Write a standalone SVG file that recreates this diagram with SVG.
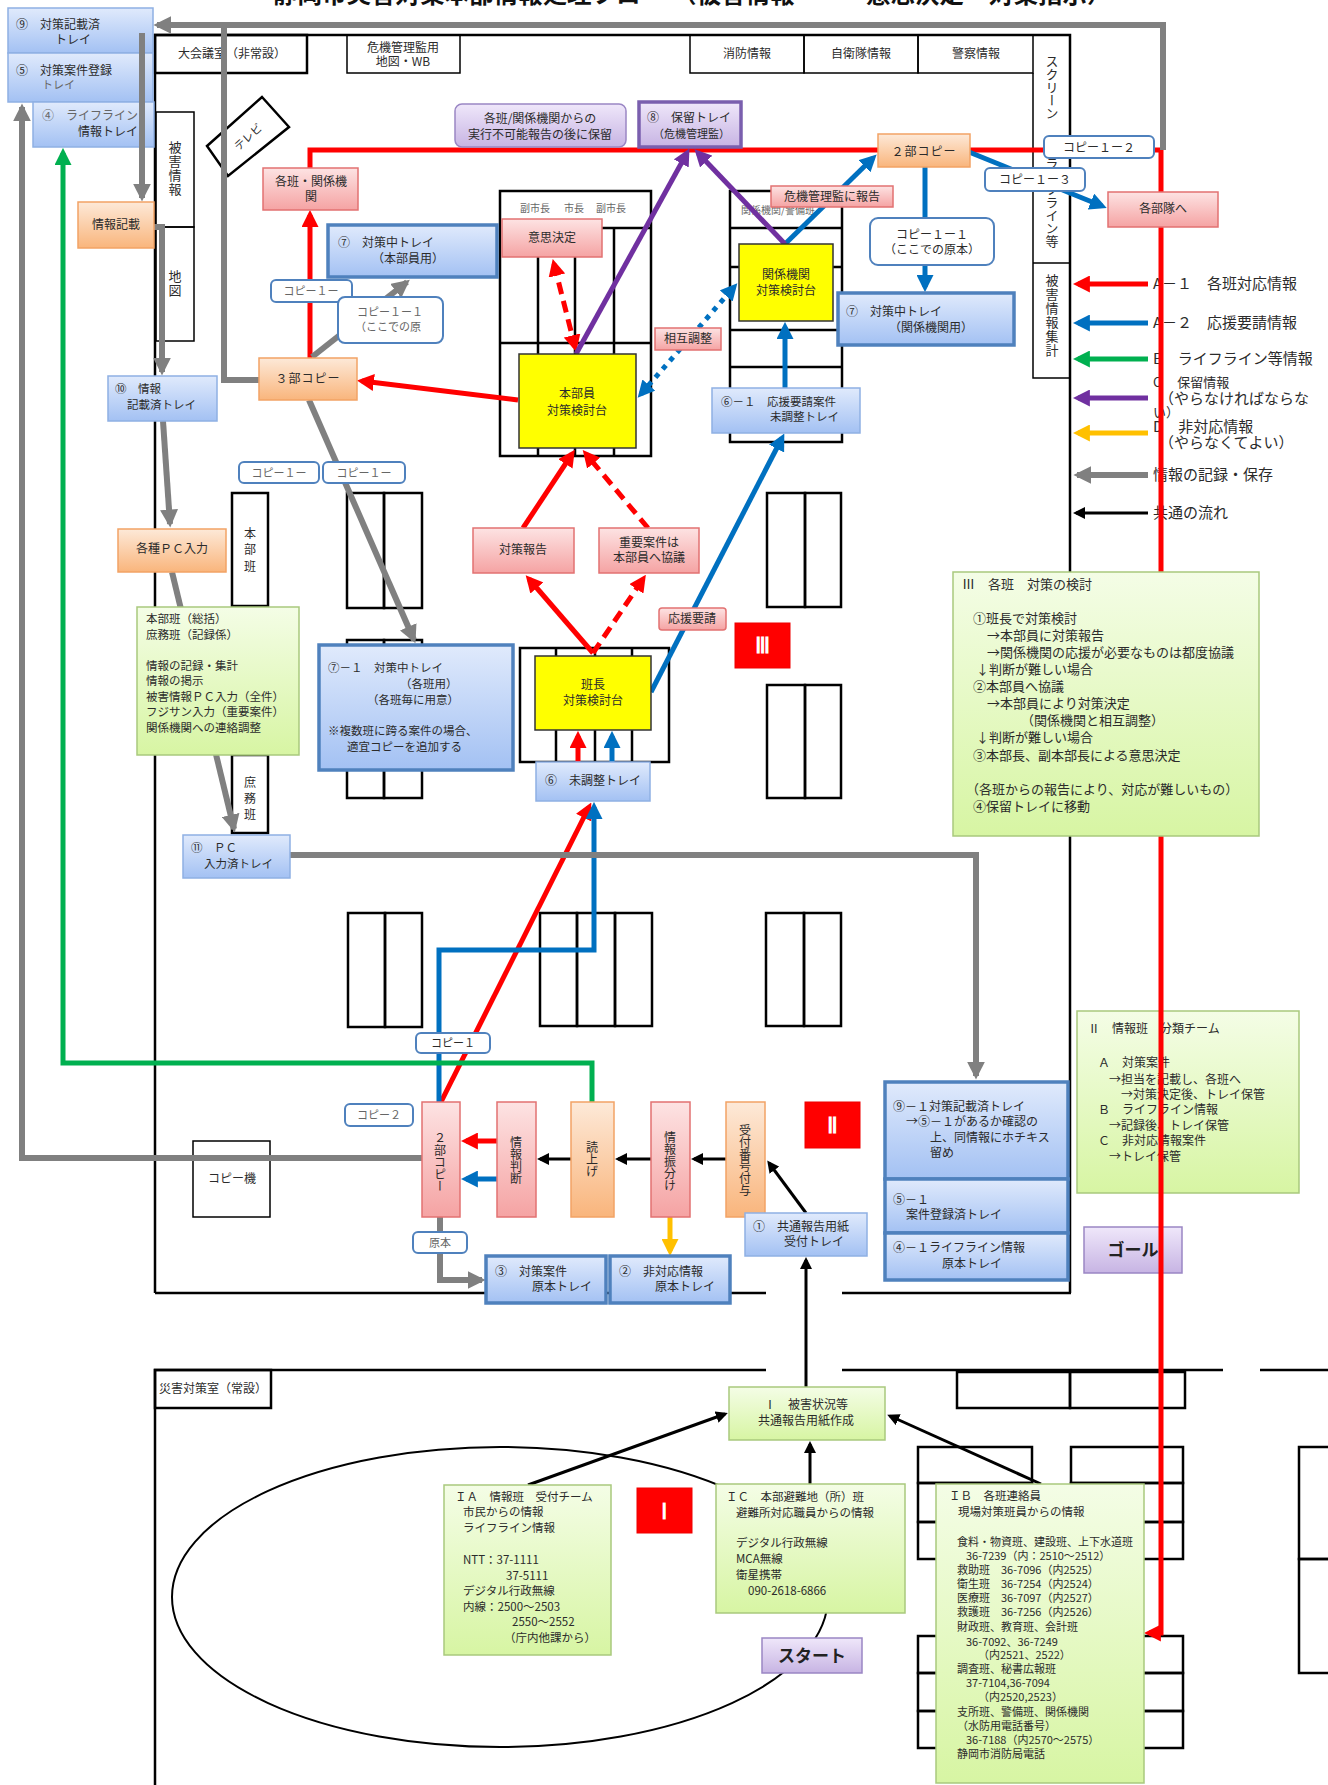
<svg xmlns="http://www.w3.org/2000/svg" width="1328" height="1785" viewBox="0 0 1328 1785">
<defs>
<linearGradient id="gB" x1="0" y1="0" x2="0" y2="1"><stop offset="0" stop-color="#e0eafc"/><stop offset="1" stop-color="#a3c1f3"/></linearGradient>
<linearGradient id="gO" x1="0" y1="0" x2="0" y2="1"><stop offset="0" stop-color="#fde9d8"/><stop offset="1" stop-color="#f9b57c"/></linearGradient>
<linearGradient id="gP" x1="0" y1="0" x2="0" y2="1"><stop offset="0" stop-color="#fde3e3"/><stop offset="1" stop-color="#f5a3a3"/></linearGradient>
<linearGradient id="gG" x1="0" y1="0" x2="0" y2="1"><stop offset="0" stop-color="#f4fde6"/><stop offset="1" stop-color="#d7f5a3"/></linearGradient>
<linearGradient id="gV" x1="0" y1="0" x2="0" y2="1"><stop offset="0" stop-color="#efe7fa"/><stop offset="1" stop-color="#c7b4e3"/></linearGradient>
<marker id="mR" viewBox="0 0 10 10" refX="7" refY="5" markerWidth="3.4" markerHeight="3.4" orient="auto-start-reverse"><path d="M0,0 L10,5 L0,10 z" fill="#ff0000"/></marker>
<marker id="mB" viewBox="0 0 10 10" refX="7" refY="5" markerWidth="3.4" markerHeight="3.4" orient="auto-start-reverse"><path d="M0,0 L10,5 L0,10 z" fill="#0070c0"/></marker>
<marker id="mG" viewBox="0 0 10 10" refX="7" refY="5" markerWidth="3.4" markerHeight="3.4" orient="auto-start-reverse"><path d="M0,0 L10,5 L0,10 z" fill="#00b050"/></marker>
<marker id="mV" viewBox="0 0 10 10" refX="7" refY="5" markerWidth="3.4" markerHeight="3.4" orient="auto-start-reverse"><path d="M0,0 L10,5 L0,10 z" fill="#7030a0"/></marker>
<marker id="mY" viewBox="0 0 10 10" refX="7" refY="5" markerWidth="3.4" markerHeight="3.4" orient="auto-start-reverse"><path d="M0,0 L10,5 L0,10 z" fill="#ffc000"/></marker>
<marker id="mGr" viewBox="0 0 10 10" refX="8" refY="5" markerWidth="3" markerHeight="3" orient="auto-start-reverse"><path d="M0,0 L10,5 L0,10 z" fill="#808080"/></marker>
<marker id="mK" viewBox="0 0 10 10" refX="7.5" refY="5" markerWidth="4" markerHeight="4" orient="auto-start-reverse"><path d="M0,0 L10,5 L0,10 z" fill="#000"/></marker>
<style>
text{font-family:"Noto Sans CJK JP","Noto Sans",sans-serif;fill:#2b2b2b}
.s10{font-size:10px}.s11{font-size:11px}.s115{font-size:11.5px}.s12{font-size:12px}.s13{font-size:13px}.s15{font-size:15px}
.m{text-anchor:middle}
.v{writing-mode:vertical-rl}
.g{fill:#666}
.wall{fill:none;stroke:#000;stroke-width:2.5}
.thin{fill:none;stroke:#000;stroke-width:1.5}
.desk{fill:none;stroke:#000;stroke-width:2.5}
.tb{fill:url(#gB);stroke:#8fb0e3;stroke-width:1.5}
.tbk{fill:url(#gB);stroke:#4f81bd;stroke-width:3.5}
.or{fill:url(#gO);stroke:#f2a365;stroke-width:1.5}
.pk{fill:url(#gP);stroke:#e27272;stroke-width:1.5}
.gr{fill:url(#gG);stroke:#a9c97d;stroke-width:1.5}
.pu{fill:url(#gV);stroke:#9a86c4;stroke-width:1.5}
.puk{fill:url(#gV);stroke:#7a5fae;stroke-width:3.5}
.yl{fill:#ffff00;stroke:#333;stroke-width:1.5}
.cp{fill:#fff;stroke:#4f81bd;stroke-width:2}
.rd{fill:#f00;stroke:#e00;stroke-width:1}
.rn{font-family:"Liberation Serif",serif;font-weight:bold;font-size:22px;fill:#fff;text-anchor:middle}
.big{font-size:17px;font-weight:bold;fill:#222}
.cR{fill:none;stroke:#ff0000;stroke-width:5}
.cB{fill:none;stroke:#0070c0;stroke-width:5}
.cG{fill:none;stroke:#00b050;stroke-width:5}
.cV{fill:none;stroke:#7030a0;stroke-width:5}
.cY{fill:none;stroke:#ffc000;stroke-width:5}
.cGr{fill:none;stroke:#808080;stroke-width:6}
.cK{fill:none;stroke:#000;stroke-width:3}
</style>
</defs>
<rect width="1328" height="1785" fill="#fff"/>

<g id="background">
<text x="273" y="3" font-size="24.5" font-weight="bold" style="fill:#111">静岡市災害対策本部情報処理フロー</text>
<text x="672" y="3" font-size="24.5" font-weight="bold" style="fill:#111">（被害情報</text>
<text x="866" y="3" font-size="24.5" font-weight="bold" style="fill:#111">意思決定</text>
<text x="989" y="3" font-size="24.5" font-weight="bold" style="fill:#111">対策指示）</text>
<path class="wall" d="M155,1293 V35 H1070 V1293"/>
<path class="wall" d="M155,1293 H766 M842,1293 H1071"/>
<rect class="wall" x="155" y="35" width="152" height="38"/>
<text class="s12" x="178" y="58">大会議室（非常設）</text>
<rect class="thin" x="347" y="35" width="113" height="38"/>
<text class="s12 m" x="403" y="52">危機管理監用</text>
<text class="s12 m" x="403" y="66">地図・WB</text>
<rect class="thin" x="690" y="35" width="114" height="38"/>
<rect class="thin" x="804" y="35" width="114" height="38"/>
<rect class="thin" x="918" y="35" width="115" height="38"/>
<text class="s12 m" x="747" y="58">消防情報</text>
<text class="s12 m" x="861" y="58">自衛隊情報</text>
<text class="s12 m" x="976" y="58">警察情報</text>
<path class="thin" d="M1033,73 V378 H1070 M1033,263 H1070"/>
<text class="s13 v" x="1052" y="55">スクリーン</text>
<text class="s13 v" x="1052" y="157">ライフライン等</text>
<text class="s13 v" x="1052" y="274" style="letter-spacing:1px">被害情報集計</text>
<rect class="thin" x="156" y="112" width="38" height="115"/>
<rect class="thin" x="156" y="227" width="38" height="114"/>
<text class="s13 v" x="175" y="141" style="letter-spacing:1px">被害情報</text>
<text class="s13 v" x="175" y="270" style="letter-spacing:1px">地図</text>
<polygon points="262,97 289,127 228,176 207,146" fill="#fff" stroke="#000" stroke-width="2.5"/>
<text class="s11 m" x="248" y="141" transform="rotate(-42 248 137)">テレビ</text>
<rect class="desk" x="232" y="493" width="36" height="113"/>
<text class="s12 v" x="250" y="527" style="letter-spacing:4.5px">本部班</text>
<rect class="desk" x="232" y="755" width="36" height="78"/>
<text class="s12 v" x="250" y="776" style="letter-spacing:4px">庶務班</text>
<rect class="desk" x="347" y="493" width="37" height="115"/>
<rect class="desk" x="384" y="493" width="38" height="115"/>
<rect class="desk" x="347" y="640" width="37" height="158"/>
<rect class="desk" x="384" y="640" width="38" height="158"/>
<rect class="desk" x="767" y="493" width="38" height="114"/>
<rect class="desk" x="805" y="493" width="36" height="114"/>
<rect class="desk" x="767" y="685" width="38" height="113"/>
<rect class="desk" x="805" y="685" width="36" height="113"/>
<rect class="desk" x="348" y="913" width="37" height="114"/>
<rect class="desk" x="385" y="913" width="37" height="114"/>
<rect class="desk" x="540" y="913" width="37" height="113"/>
<rect class="desk" x="577" y="913" width="38" height="113"/>
<rect class="desk" x="615" y="913" width="37" height="113"/>
<rect class="desk" x="766" y="913" width="38" height="113"/>
<rect class="desk" x="804" y="913" width="37" height="113"/>
<rect class="desk" x="500" y="191" width="151" height="265"/>
<path class="desk" d="M602,228 H651 M538,228 V456 M575,228 V456 M614,228 V456 M500,343 H651"/>
<text class="s10 g" x="520" y="212">副市長</text>
<text class="s10 g" x="564" y="212">市長</text>
<text class="s10 g" x="596" y="212">副市長</text>
<rect class="desk" x="730" y="191" width="112" height="251"/>
<path class="desk" d="M730,228 H842 M730,267 H842 M730,330 H842 M730,367 H842"/>
<text class="s10 g" x="741" y="214">関係機関/警備班</text>
<rect class="desk" x="520" y="648" width="149" height="114"/>
<path class="desk" d="M556,648 V762 M595,648 V762 M632,648 V762"/>
<rect class="thin" x="193" y="1141" width="77" height="76"/>
<text class="s12 m" x="232" y="1183">コピー機</text>
<path class="wall" d="M155,1785 V1370 H766 M842,1370 H1223 M1260,1370 H1328"/>
<rect class="wall" x="155" y="1370" width="116" height="38"/>
<text class="s12" x="159" y="1393">災害対策室（常設）</text>
<rect class="desk" x="957" y="1372" width="113" height="36"/>
<rect class="desk" x="1070" y="1372" width="115" height="36"/>
<rect class="desk" x="918" y="1447" width="114" height="36"/>
<rect class="desk" x="1071" y="1447" width="112" height="36"/>
<rect class="desk" x="918" y="1483" width="114" height="39"/>
<rect class="desk" x="1071" y="1483" width="112" height="39"/>
<rect class="desk" x="918" y="1522" width="114" height="37"/>
<rect class="desk" x="1071" y="1522" width="112" height="37"/>
<rect class="desk" x="918" y="1636" width="114" height="37"/>
<rect class="desk" x="1071" y="1636" width="112" height="37"/>
<rect class="desk" x="918" y="1673" width="114" height="38"/>
<rect class="desk" x="1071" y="1673" width="112" height="38"/>
<rect class="desk" x="918" y="1711" width="114" height="37"/>
<rect class="desk" x="1071" y="1711" width="112" height="37"/>
<rect class="desk" x="1299" y="1447" width="40" height="112"/>
<rect class="desk" x="1299" y="1559" width="40" height="114"/>
<ellipse cx="500" cy="1597" rx="328" ry="150" fill="none" stroke="#000" stroke-width="2"/>
</g>

<g id="legend">
<path class="cR" d="M1148,284 H1078" marker-end="url(#mR)"/>
<path class="cB" d="M1148,323 H1078" marker-end="url(#mB)"/>
<path class="cG" d="M1148,359 H1078" marker-end="url(#mG)"/>
<path class="cV" d="M1148,398 H1078" marker-end="url(#mV)"/>
<path class="cY" d="M1148,433 H1078" marker-end="url(#mY)"/>
<path class="cGr" d="M1148,475 H1077" marker-end="url(#mGr)"/>
<path class="cK" d="M1148,513 H1076" marker-end="url(#mK)"/>
<text class="s15" x="1153" y="289">A－１　各班対応情報</text>
<text class="s15" x="1153" y="328">A－２　応援要請情報</text>
<text class="s15" x="1153" y="364">B　ライフライン等情報</text>
<text class="s13" x="1153" y="387">C　 保留情報</text>
<text class="s15" x="1159" y="404">（やらなければならな</text>
<text class="s13" x="1153" y="417">い）</text>
<text class="s15" x="1153" y="432">D　非対応情報</text>
<text class="s15" x="1159" y="448">（やらなくてよい）</text>
<text class="s15" x="1153" y="480">情報の記録・保存</text>
<text class="s15" x="1153" y="518">共通の流れ</text>
</g>

<g id="n-tray9">
<rect class="tb" x="8" y="8" width="145" height="45"/>
<text class="s12" x="16" y="29">⑨　対策記載済</text>
<text class="s12" x="55" y="44">トレイ</text>
</g>
<g id="n-tray5">
<rect class="tb" x="8" y="53" width="145" height="49"/>
<text class="s12" x="16" y="75">⑤　対策案件登録</text>
<text class="s11 g" x="42" y="89">トレイ</text>
</g>
<g id="n-tray4">
<rect class="tb" x="33" y="102" width="121" height="45"/>
<text class="s12 g" x="42" y="120">④　ライフライン</text>
<text class="s12" x="78" y="136">情報トレイ</text>
</g>
<g id="n-team2">
<rect class="gr" x="1077" y="1011" width="222" height="182"/>
<text class="s12" x="1088" y="1033">Ⅱ　情報班　分類チーム</text>
<text class="s12" x="1098" y="1067">Ａ　対策案件</text>
<text class="s12" x="1109" y="1084">→担当を記載し、各班へ</text>
<text class="s12" x="1121" y="1099">→対策決定後、トレイ保管</text>
<text class="s12" x="1098" y="1114">Ｂ　ライフライン情報</text>
<text class="s12" x="1109" y="1130">→記録後、トレイ保管</text>
<text class="s12" x="1098" y="1145">Ｃ　非対応情報案件</text>
<text class="s12" x="1109" y="1161">→トレイ保管</text>
</g>
<g id="n-goal">
<rect class="pu" x="1084" y="1227" width="98" height="46"/>
<text class="big m" x="1133" y="1256">ゴール</text>
</g>

<g id="connectors">
<path class="cR" d="M310,358 V215" marker-end="url(#mR)"/>
<path class="cR" d="M310,168 V150 H880"/>
<path class="cR" d="M968,150 H1161 V1633 H1149" marker-end="url(#mR)"/>
<path class="cR" d="M518,400 L362,381" marker-end="url(#mR)"/>
<path class="cR" d="M523,528 L572,454" marker-end="url(#mR)"/>
<path class="cR" d="M648,528 L586,454" stroke-dasharray="12,7" marker-end="url(#mR)"/>
<path class="cR" d="M593,653 L529,579" marker-end="url(#mR)"/>
<path class="cR" d="M593,653 L643,579" stroke-dasharray="12,7" marker-end="url(#mR)"/>
<path class="cR" d="M554,264 L575,347" stroke-dasharray="12,7" marker-start="url(#mR)" marker-end="url(#mR)"/>
<path class="cR" d="M441,1102 L589,807" marker-end="url(#mR)"/>
<path class="cR" d="M578,762 V736" marker-end="url(#mR)"/>
<path class="cR" d="M497,1141 H466" marker-end="url(#mR)"/>
<path class="cB" d="M785,244 L873,158" marker-end="url(#mB)"/>
<path class="cB" d="M925,167 V287" marker-end="url(#mB)"/>
<path class="cB" d="M969,152 L1102,206" marker-end="url(#mB)"/>
<path class="cB" d="M641,394 L734,287" stroke-dasharray="5,6" marker-start="url(#mB)" marker-end="url(#mB)"/>
<path class="cB" d="M785,388 V327" marker-end="url(#mB)"/>
<path class="cB" d="M651,692 L782,438" marker-end="url(#mB)"/>
<path class="cB" d="M439,1102 V950 H594 V807" marker-end="url(#mB)"/>
<path class="cB" d="M612,762 V736" marker-end="url(#mB)"/>
<path class="cB" d="M497,1179 H466" marker-end="url(#mB)"/>
<path class="cG" d="M592,1102 V1063 H63 V153" marker-end="url(#mG)"/>
<path class="cV" d="M576,354 L687,153" marker-end="url(#mV)"/>
<path class="cV" d="M785,244 L698,153" marker-end="url(#mV)"/>
<path class="cY" d="M670,1217 V1251" marker-end="url(#mY)"/>
<path class="cGr" d="M1163,150 V25 H157" marker-end="url(#mGr)"/>
<path class="cGr" d="M259,380 H224 V25"/>
<path class="cGr" d="M142,33 V198" marker-end="url(#mGr)"/>
<path class="cGr" d="M154,227 H162 V372" marker-end="url(#mGr)"/>
<path class="cGr" d="M163,421 L170,524" marker-end="url(#mGr)"/>
<path class="cGr" d="M172,572 L234,829" marker-end="url(#mGr)"/>
<path class="cGr" d="M290,855 H976 V1076" marker-end="url(#mGr)"/>
<path class="cGr" d="M312,357 L407,282" marker-end="url(#mGr)"/>
<path class="cGr" d="M309,400 L414,640" marker-end="url(#mGr)"/>
<path class="cGr" d="M422,1158 H22 V107" marker-end="url(#mGr)"/>
<path class="cGr" d="M440,1217 V1280 H482" marker-end="url(#mGr)"/>
<path class="cK" d="M726,1159 H694" marker-end="url(#mK)"/>
<path class="cK" d="M651,1159 H618" marker-end="url(#mK)"/>
<path class="cK" d="M571,1159 H540" marker-end="url(#mK)"/>
<path class="cK" d="M806,1213 L769,1163" marker-end="url(#mK)"/>
<path class="cK" d="M806,1387 V1260" marker-end="url(#mK)"/>
<path class="cK" d="M528,1485 L725,1414" marker-end="url(#mK)"/>
<path class="cK" d="M810,1484 V1444" marker-end="url(#mK)"/>
<path class="cK" d="M1041,1484 L890,1416" marker-end="url(#mK)"/>
</g>

<g id="n-jouhoukisai"><rect class="or" x="78" y="202" width="76" height="46"/><text class="s12 m" x="116" y="229">情報記載</text></g>
<g id="n-tray10"><rect class="tb" x="108" y="376" width="109" height="45"/><text class="s115" x="115" y="393">⑩　情報</text><text class="s115" x="127" y="409">記載済トレイ</text></g>
<g id="n-kakuhan"><rect class="pk" x="263" y="168" width="95" height="42"/><text class="s12 m" x="311" y="186">各班・関係機</text><text class="s12 m" x="311" y="201">関</text></g>
<g id="n-tray7a"><rect class="tbk" x="328" y="225" width="169" height="52"/><text class="s12" x="338" y="247">⑦　対策中トレイ</text><text class="s12" x="372" y="263">（本部員用）</text></g>
<g id="n-copy3"><rect class="or" x="259" y="358" width="98" height="42"/><text class="s12 m" x="308" y="383" style="letter-spacing:1px">３部コピー</text></g>
<g id="n-horyu-note"><rect class="pu" x="455" y="104" width="171" height="43" rx="7"/><text class="s12 m" x="540" y="123">各班/関係機関からの</text><text class="s12 m" x="540" y="139">実行不可能報告の後に保留</text></g>
<g id="n-tray8"><rect class="puk" x="639" y="102" width="102" height="45"/><text class="s12" x="647" y="122">⑧　保留トレイ</text><text class="s11" x="653" y="138">（危機管理監）</text></g>
<g id="n-copy2top"><rect class="or" x="878" y="134" width="92" height="33"/><text class="s12 m" x="924" y="156" style="letter-spacing:1px">２部コピー</text></g>
<g id="n-ishikettei"><rect class="pk" x="502" y="219" width="100" height="38"/><text class="s12 m" x="552" y="242">意思決定</text></g>
<g id="n-honbuin"><rect class="yl" x="519" y="354" width="117" height="94"/><text class="s12 m" x="577" y="398">本部員</text><text class="s12 m" x="577" y="415">対策検討台</text></g>
<g id="n-kikikanri"><rect class="pk" x="771" y="186" width="122" height="21"/><text class="s12 m" x="832" y="201">危機管理監に報告</text></g>
<g id="n-kankei"><rect class="yl" x="739" y="244" width="94" height="77"/><text class="s12 m" x="786" y="279">関係機関</text><text class="s12 m" x="786" y="295">対策検討台</text></g>
<g id="n-sougo"><rect class="pk" x="655" y="328" width="66" height="22"/><text class="s12 m" x="688" y="343">相互調整</text></g>
<g id="n-tray7b"><rect class="tbk" x="838" y="293" width="176" height="52"/><text class="s12" x="846" y="316">⑦　対策中トレイ</text><text class="s12" x="889" y="332">（関係機関用）</text></g>
<g id="n-tray6-1"><rect class="tb" x="712" y="388" width="148" height="45"/><text class="s115" x="721" y="406">⑥－１　応援要請案件</text><text class="s115" x="770" y="421">未調整トレイ</text></g>
<g id="n-kakubutai"><rect class="pk" x="1108" y="192" width="110" height="35"/><text class="s12 m" x="1163" y="213">各部隊へ</text></g>
<g id="n-kakushupc"><rect class="or" x="118" y="529" width="108" height="43"/><text class="s12 m" x="172" y="553">各種ＰＣ入力</text></g>
<g id="n-honbuhan">
<rect class="gr" x="137" y="607" width="162" height="148"/>
<text class="s115" x="146" y="623">本部班（総括）</text>
<text class="s115" x="146" y="639">庶務班（記録係）</text>
<text class="s115" x="146" y="670">情報の記録・集計</text>
<text class="s115" x="146" y="685">情報の掲示</text>
<text class="s115" x="146" y="701">被害情報ＰＣ入力（全件）</text>
<text class="s115" x="146" y="716">フジサン入力（重要案件）</text>
<text class="s115" x="146" y="732">関係機関への連絡調整</text>
</g>
<g id="n-tray7-1">
<rect class="tbk" x="319" y="645" width="194" height="125"/>
<text class="s115" x="328" y="672">⑦－１　対策中トレイ</text>
<text class="s115" x="400" y="688">（各班用）</text>
<text class="s115" x="367" y="704">（各班毎に用意）</text>
<text class="s115" x="328" y="735">※複数班に跨る案件の場合、</text>
<text class="s115" x="347" y="751">適宜コピーを追加する</text>
</g>
<g id="n-taisakuhoukoku"><rect class="pk" x="473" y="528" width="101" height="45"/><text class="s12 m" x="523" y="554">対策報告</text></g>
<g id="n-juuyou"><rect class="pk" x="599" y="528" width="100" height="45"/><text class="s12 m" x="649" y="547">重要案件は</text><text class="s12 m" x="649" y="562">本部員へ協議</text></g>
<g id="n-ouen"><rect class="pk" x="659" y="608" width="67" height="22" rx="3"/><text class="s12 m" x="692" y="623">応援要請</text></g>
<g id="n-mark3"><rect class="rd" x="735" y="623" width="55" height="45"/><text class="rn" x="762" y="653">Ⅲ</text></g>
<g id="n-hanchou"><rect class="yl" x="535" y="656" width="116" height="74"/><text class="s12 m" x="593" y="689">班長</text><text class="s12 m" x="593" y="705">対策検討台</text></g>
<g id="n-tray6"><rect class="tb" x="536" y="762" width="114" height="39"/><text class="s12 m" x="593" y="785">⑥　未調整トレイ</text></g>
<g id="n-tray11"><rect class="tb" x="183" y="835" width="107" height="43"/><text class="s115" x="191" y="852">⑪　ＰＣ</text><text class="s115" x="204" y="868">入力済トレイ</text></g>
<g id="n-team3">
<rect class="gr" x="953" y="572" width="306" height="264"/>
<text class="s13" x="962" y="589">Ⅲ　各班　対策の検討</text>
<text class="s13" x="973" y="623">①班長で対策検討</text>
<text class="s13" x="987" y="640">→本部員に対策報告</text>
<text class="s13" x="987" y="657">→関係機関の応援が必要なものは都度協議</text>
<text class="s13" x="976" y="674">↓判断が難しい場合</text>
<text class="s13" x="973" y="691">②本部員へ協議</text>
<text class="s13" x="987" y="708">→本部員により対策決定</text>
<text class="s13" x="1021" y="725">（関係機関と相互調整）</text>
<text class="s13" x="976" y="742">↓判断が難しい場合</text>
<text class="s13" x="973" y="760">③本部長、副本部長による意思決定</text>
<text class="s13" x="966" y="794">（各班からの報告により、対応が難しいもの）</text>
<text class="s13" x="973" y="811">④保留トレイに移動</text>
</g>
<g id="n-copy2v"><rect class="pk" x="422" y="1102" width="38" height="115"/><text class="s12 v" x="440" y="1132">２部コピー</text></g>
<g id="n-handan"><rect class="pk" x="497" y="1102" width="39" height="115"/><text class="s12 v" x="516" y="1136">情報判断</text></g>
<g id="n-yomiage"><rect class="or" x="571" y="1102" width="43" height="115"/><text class="s12 v" x="592" y="1141">読上げ</text></g>
<g id="n-furiwake"><rect class="pk" x="651" y="1102" width="39" height="115"/><text class="s12 v" x="670" y="1131">情報振分け</text></g>
<g id="n-uketsuke"><rect class="or" x="726" y="1102" width="39" height="115"/><text class="s12 v" x="745" y="1124">受付番号付与</text></g>
<g id="n-mark2"><rect class="rd" x="805" y="1102" width="55" height="46"/><text class="rn" x="832" y="1133">Ⅱ</text></g>
<g id="n-tray9-1">
<rect class="tbk" x="885" y="1082" width="183" height="97"/>
<text class="s12" x="893" y="1111">⑨－１対策記載済トレイ</text>
<text class="s12" x="906" y="1126">→⑤－１があるか確認の</text>
<text class="s12" x="930" y="1142">上、同情報にホチキス</text>
<text class="s12" x="930" y="1157">留め</text>
</g>
<g id="n-tray5-1"><rect class="tbk" x="885" y="1179" width="183" height="54"/><text class="s12" x="893" y="1204">⑤－１</text><text class="s12" x="906" y="1219">案件登録済トレイ</text></g>
<g id="n-tray4-1"><rect class="tbk" x="885" y="1233" width="183" height="47"/><text class="s12" x="893" y="1252">④－１ライフライン情報</text><text class="s12" x="942" y="1268">原本トレイ</text></g>
<g id="n-tray1"><rect class="tb" x="745" y="1213" width="122" height="43"/><text class="s12" x="753" y="1231">①　共通報告用紙</text><text class="s12" x="784" y="1246">受付トレイ</text></g>
<g id="n-tray3"><rect class="tbk" x="486" y="1256" width="120" height="47"/><text class="s12" x="495" y="1276">③　対策案件</text><text class="s12" x="532" y="1291">原本トレイ</text></g>
<g id="n-tray2"><rect class="tbk" x="610" y="1256" width="120" height="47"/><text class="s12" x="619" y="1276">②　非対応情報</text><text class="s12" x="655" y="1291">原本トレイ</text></g>
<g id="n-kyoutsu"><rect class="gr" x="729" y="1387" width="156" height="53"/><text class="s12 m" x="806" y="1409">Ⅰ　被害状況等</text><text class="s12 m" x="806" y="1425">共通報告用紙作成</text></g>
<g id="n-teamIA">
<rect class="gr" x="444" y="1485" width="167" height="170"/>
<text class="s115" x="455" y="1501">ＩＡ　情報班　受付チーム</text>
<text class="s115" x="463" y="1516">市民からの情報</text>
<text class="s115" x="463" y="1532">ライフライン情報</text>
<text class="s115" x="463" y="1564">NTT：37-1111</text>
<text class="s115" x="506" y="1580">37-5111</text>
<text class="s115" x="463" y="1595">デジタル行政無線</text>
<text class="s115" x="463" y="1611">内線：2500～2503</text>
<text class="s115" x="512" y="1626">2550～2552</text>
<text class="s115" x="504" y="1642">（庁内他課から）</text>
</g>
<g id="n-mark1"><rect class="rd" x="637" y="1488" width="55" height="45"/><text class="rn" x="664" y="1519">Ⅰ</text></g>
<g id="n-teamIC">
<rect class="gr" x="716" y="1484" width="189" height="129"/>
<text class="s115" x="726" y="1501">ＩＣ　本部避難地（所）班</text>
<text class="s115" x="736" y="1517">避難所対応職員からの情報</text>
<text class="s115" x="736" y="1547">デジタル行政無線</text>
<text class="s115" x="736" y="1563">MCA無線</text>
<text class="s115" x="736" y="1579">衛星携帯</text>
<text class="s115" x="748" y="1595">090-2618-6866</text>
</g>
<g id="n-start"><rect class="pu" x="762" y="1638" width="100" height="35"/><text class="big m" x="812" y="1662">スタート</text></g>
<g id="n-teamIB">
<rect class="gr" x="936" y="1484" width="208" height="299"/>
<text class="s115" x="949" y="1500">ＩＢ　各班連絡員</text>
<text class="s115" x="958" y="1516">現場対策班員からの情報</text>
<text class="s11" x="957" y="1546">食料・物資班、建設班、上下水道班</text>
<text class="s11" x="966" y="1560">36-7239（内：2510～2512）</text>
<text class="s11" x="957" y="1574">救助班　36-7096（内2525）</text>
<text class="s11" x="957" y="1588">衛生班　36-7254（内2524）</text>
<text class="s11" x="957" y="1602">医療班　36-7097（内2527）</text>
<text class="s11" x="957" y="1616">救護班　36-7256（内2526）</text>
<text class="s11" x="957" y="1631">財政班、教育班、会計班</text>
<text class="s11" x="966" y="1646">36-7092、36-7249</text>
<text class="s11" x="978" y="1659">（内2521、2522）</text>
<text class="s11" x="957" y="1673">調査班、秘書広報班</text>
<text class="s11" x="966" y="1687">37-7104,36-7094</text>
<text class="s11" x="978" y="1701">（内2520,2523）</text>
<text class="s11" x="957" y="1716">支所班、警備班、関係機関</text>
<text class="s11" x="957" y="1730">（水防用電話番号）</text>
<text class="s11" x="966" y="1744">36-7188（内2570～2575）</text>
<text class="s11" x="957" y="1758">静岡市消防局電話</text>
</g>

<g id="copy-labels">
<g id="l-copy1a"><rect class="cp" x="271" y="280" width="81" height="22" rx="5"/><text class="s11 m g" x="311" y="295">コピー１ー</text></g>
<g id="l-copy11a"><rect class="cp" x="338" y="297" width="105" height="46" rx="7"/><text class="s11 m g" x="390" y="316">コピー１ー１</text><text class="s11 g" x="355" y="331">（ここでの原</text></g>
<g id="l-copy11b"><rect class="cp" x="870" y="218" width="124" height="47" rx="8"/><text class="s12 m" x="932" y="239">コピー１ー１</text><text class="s12 m" x="932" y="254">（ここでの原本）</text></g>
<g id="l-copy12"><rect class="cp" x="1044" y="136" width="110" height="22" rx="5"/><text class="s12 m" x="1099" y="152">コピー１ー２</text></g>
<g id="l-copy13"><rect class="cp" x="985" y="168" width="100" height="23" rx="5"/><text class="s12 m" x="1035" y="184">コピー１ー３</text></g>
<g id="l-copy1b"><rect class="cp" x="239" y="462" width="80" height="21" rx="5"/><text class="s11 m g" x="279" y="477">コピー１ー</text></g>
<g id="l-copy1c"><rect class="cp" x="323" y="462" width="82" height="21" rx="5"/><text class="s11 m g" x="364" y="477">コピー１ー</text></g>
<g id="l-copy1"><rect class="cp" x="416" y="1033" width="74" height="20" rx="5"/><text class="s11 m" x="453" y="1047">コピー１</text></g>
<g id="l-copy2"><rect class="cp" x="345" y="1104" width="68" height="22" rx="5"/><text class="s11 m g" x="379" y="1119">コピー２</text></g>
<g id="l-genpon"><rect class="cp" x="413" y="1232" width="54" height="21" rx="5"/><text class="s11 m g" x="440" y="1247">原本</text></g>
</g>
</svg>
